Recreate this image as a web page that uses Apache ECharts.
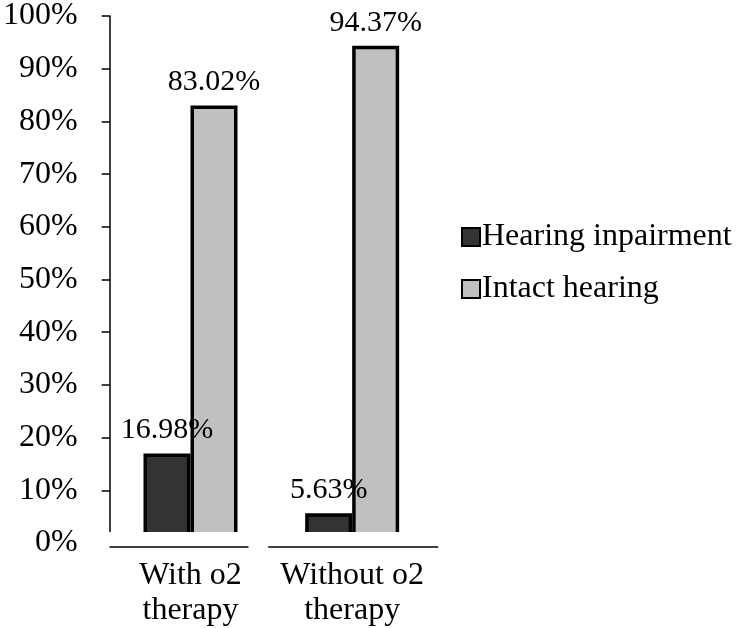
<!DOCTYPE html>
<html>
<head>
<meta charset="utf-8">
<script src="https://cdn.jsdelivr.net/npm/echarts@6/dist/echarts.min.js"></script>
<style>html,body{margin:0;padding:0;background:#fff;}#c{width:739px;height:628px;}</style>
</head>
<body>
<div id="c"></div>
<script>
var categories = ['With o2\ntherapy', 'Without o2\ntherapy'];
var impairment = [16.98, 5.63];
var intact = [83.02, 94.37];
var seriesNames = ['Hearing inpairment', 'Intact hearing'];
var yTicks = { min: 0, max: 100, interval: 10 };

var FONT = 'Liberation Serif';
var chart = echarts.init(document.getElementById('c'), null, { renderer: 'canvas' });
var labelStyle = {
  show: true, position: 'top', distance: 8,
  fontFamily: FONT, fontSize: 30, color: '#000',
  formatter: function (p) { return p.value.toFixed(2) + '%'; }
};
chart.setOption({
  animation: false,
  backgroundColor: '#fff',
  grid: { left: 104, right: 306, top: 11, bottom: 84 },
  legend: {
    orient: 'vertical', left: 456, top: 216, itemGap: 20,
    itemWidth: 18, itemHeight: 18, icon: 'rect',
    textStyle: { fontFamily: FONT, fontSize: 32, color: '#000', padding: [0, 0, 0, -3] },
    data: seriesNames
  },
  xAxis: {
    type: 'category', data: categories,
    axisLine: { show: false }, axisTick: { show: false },
    axisLabel: { interval: 0, fontFamily: FONT, fontSize: 32, color: '#000', margin: 15, lineHeight: 35 }
  },
  yAxis: {
    type: 'value', min: yTicks.min, max: yTicks.max, interval: yTicks.interval,
    splitLine: { show: false },
    axisLine: { show: true, lineStyle: { color: '#000', width: 1.5 } },
    axisTick: { show: true, length: 8, lineStyle: { color: '#000', width: 1.5 } },
    axisLabel: { fontFamily: FONT, fontSize: 32, color: '#000', margin: 32, formatter: '{value}%' }
  },
  series: [
    { name: seriesNames[0], type: 'bar', data: impairment, barWidth: 47, barGap: '0%',
      itemStyle: { color: '#333333', borderColor: '#000', borderWidth: 3.5 }, label: labelStyle },
    { name: seriesNames[1], type: 'bar', data: intact, barWidth: 47, barGap: '0%',
      itemStyle: { color: '#c0c0c0', borderColor: '#000', borderWidth: 3.5 }, label: labelStyle }
  ]
});

// Decorations: plot cut-off above the baseline and split category baseline
var g = chart.getModel().getComponent('grid').coordinateSystem.getRect();
var yCut = chart.convertToPixel({ yAxisIndex: 0 }, 2.1);
var yZero = chart.convertToPixel({ yAxisIndex: 0 }, 0);
var c0 = chart.convertToPixel({ xAxisIndex: 0 }, 0);
var c1 = chart.convertToPixel({ xAxisIndex: 0 }, 1);
var lineY = yZero + 4;
chart.setOption({
  graphic: [
    { type: 'rect', shape: { x: g.x - 12, y: yCut, width: g.width + 20, height: yZero - yCut + 2 },
      style: { fill: '#fff' }, z: 100 },
    { type: 'line', shape: { x1: c0 - 81, y1: lineY, x2: c0 + 58, y2: lineY },
      style: { stroke: '#000', lineWidth: 1.5 }, z: 101 },
    { type: 'line', shape: { x1: c1 - 84, y1: lineY, x2: c1 + 86, y2: lineY },
      style: { stroke: '#000', lineWidth: 1.5 }, z: 101 }
  ]
});
</script>
</body>
</html>
